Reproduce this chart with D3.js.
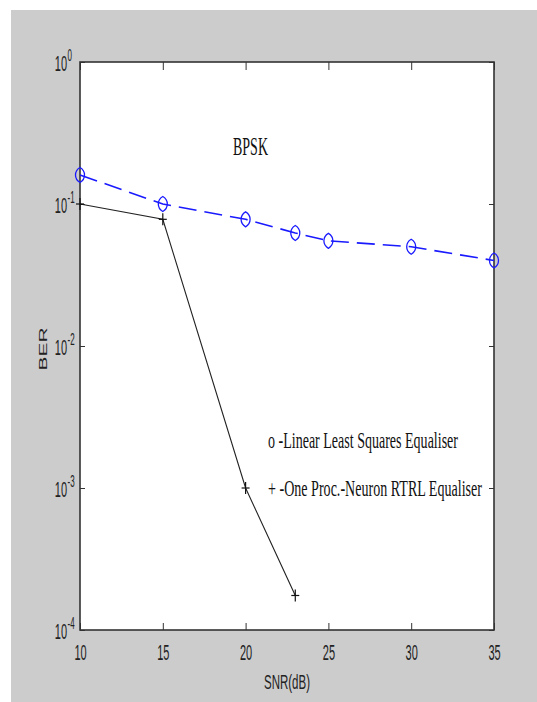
<!DOCTYPE html>
<html><head><meta charset="utf-8">
<script src="https://cdn.jsdelivr.net/npm/d3@7"></script>
<style>body{margin:0;background:#fff}svg{display:block}</style></head>
<body>
<svg id="c" width="537" height="702"></svg>
<script>
const snrLLS = [10, 15, 20, 23, 25, 30, 35];
const berLLS = [0.16, 0.10, 0.078, 0.0625, 0.055, 0.050, 0.040];
const snrRTRL = [10, 15, 20, 23];
const berRTRL = [0.10, 0.078, 0.001, 0.000175];
const xTicks = [10, 15, 20, 25, 30, 35];
const yTicks = [1e-4, 1e-3, 1e-2, 1e-1, 1];
const yExp = ["-4", "-3", "-2", "-1", "0"];
const title = "BPSK", xLabel = "SNR(dB)", yLabel = "BER";
const legendLabels = ["o -Linear Least Squares Equaliser", "+ -One Proc.-Neuron RTRL Equaliser"];

const svg = d3.select("#c");
const L = 80, R = 494, T = 62, B = 630;
const x = d3.scaleLinear().domain([10, 35]).range([L, R]);
const y = d3.scaleLog().domain([1e-4, 1]).range([B, T]);
const sans = "'Liberation Sans', Arial, sans-serif";
const serif = "'Liberation Serif', 'Times New Roman', serif";

svg.append("rect").attr("x", 11).attr("y", 10).attr("width", 526).attr("height", 692).attr("fill", "#cccccc");
svg.append("rect").attr("x", L).attr("y", T).attr("width", R - L).attr("height", B - T).attr("fill", "#fff");

function styleAxis(g) {
  g.select(".domain").remove();
  g.selectAll(".tick line").attr("stroke", "#333").attr("stroke-width", 1);
}

// bottom axis
const gx = svg.append("g").attr("transform", `translate(0,${B})`)
  .call(d3.axisBottom(x).tickValues(xTicks).tickSizeInner(-7).tickSizeOuter(0).tickFormat(d3.format("d")));
styleAxis(gx);
gx.selectAll(".tick text").attr("y", null).attr("dy", null)
  .attr("transform", "translate(0,30) scale(1,2)")
  .attr("font-family", sans).attr("font-size", 11).attr("fill", "#222");

// top axis
const gt = svg.append("g").attr("transform", `translate(0,${T})`)
  .call(d3.axisTop(x).tickValues(xTicks).tickSizeInner(-8).tickSizeOuter(0).tickFormat(""));
styleAxis(gt);

// left axis
const gl = svg.append("g").attr("transform", `translate(${L},0)`)
  .call(d3.axisLeft(y).tickValues(yTicks).tickSizeInner(-5).tickSizeOuter(0).tickFormat(""));
styleAxis(gl);
gl.selectAll(".tick").each(function(d, i) {
  const g = d3.select(this).append("g").attr("transform", "translate(-13,8) scale(1,2)");
  g.append("text").attr("x", 0).attr("y", 0).attr("text-anchor", "end")
    .attr("font-family", sans).attr("font-size", 11).attr("fill", "#222").text("10");
  g.append("text").attr("x", 0.5).attr("y", -5).attr("text-anchor", "start")
    .attr("font-family", sans).attr("font-size", 8).attr("fill", "#222").text(yExp[i]);
});

// right axis
const gr = svg.append("g").attr("transform", `translate(${R},0)`)
  .call(d3.axisRight(y).tickValues(yTicks).tickSizeInner(-5).tickSizeOuter(0).tickFormat(""));
styleAxis(gr);

// box
svg.append("rect").attr("x", L).attr("y", T).attr("width", R - L).attr("height", B - T)
  .attr("fill", "none").attr("stroke", "#333").attr("stroke-width", 1.6);

// LLS series (blue dashed, o markers)
const llsData = snrLLS.map((s, i) => [s, berLLS[i]]);
const line = d3.line().x(d => x(d[0])).y(d => y(d[1]));
svg.append("path").datum(llsData).attr("d", line).attr("fill", "none")
  .attr("stroke", "#1a1aff").attr("stroke-width", 1.6).attr("stroke-dasharray", "18,8");
svg.selectAll(".mo").data(llsData).enter().append("path")
  .attr("transform", d => `translate(${x(d[0])},${y(d[1])})`)
  .attr("d", "M0,-7.5 C6,-4 6,4 0,7.5 C-6,4 -6,-4 0,-7.5 Z")
  .attr("fill", "none").attr("stroke", "#1a1aff").attr("stroke-width", 1.3);

// RTRL series (black solid, + markers)
const rtData = snrRTRL.map((s, i) => [s, berRTRL[i]]);
svg.append("path").datum(rtData).attr("d", line).attr("fill", "none")
  .attr("stroke", "#222").attr("stroke-width", 1.1);
const plus = svg.selectAll(".mp").data(rtData).enter().append("g")
  .attr("transform", d => `translate(${x(d[0])},${y(d[1])})`);
plus.append("line").attr("x1", -4).attr("x2", 4).attr("y1", 0).attr("y2", 0).attr("stroke", "#111").attr("stroke-width", 1.2);
plus.append("line").attr("x1", 0).attr("x2", 0).attr("y1", -6).attr("y2", 6).attr("stroke", "#111").attr("stroke-width", 1.2);

// title
svg.append("text").attr("transform", "translate(250.5,155) scale(1,1.8)")
  .attr("text-anchor", "middle").attr("font-family", serif).attr("font-size", 14).attr("fill", "#111").text(title);

// legend text
const legY = [448, 496], legW = [190, 214];
legendLabels.forEach((t, i) => {
  svg.append("text").attr("transform", `translate(268,${legY[i]}) scale(1,1.6)`)
    .attr("font-family", serif).attr("font-size", 14).attr("fill", "#111")
    .attr("textLength", legW[i]).attr("lengthAdjust", "spacingAndGlyphs").text(t);
});

// axis labels
svg.append("text").attr("transform", `translate(${(L + R) / 2},689) scale(1,1.8)`)
  .attr("text-anchor", "middle").attr("font-family", sans).attr("font-size", 11.5).attr("fill", "#222").text(xLabel);
svg.append("text").attr("transform", "translate(47,349) scale(1,1.9) rotate(-90)")
  .attr("text-anchor", "middle").attr("font-family", sans).attr("font-size", 11).attr("fill", "#222").text(yLabel);
</script>
</body></html>
